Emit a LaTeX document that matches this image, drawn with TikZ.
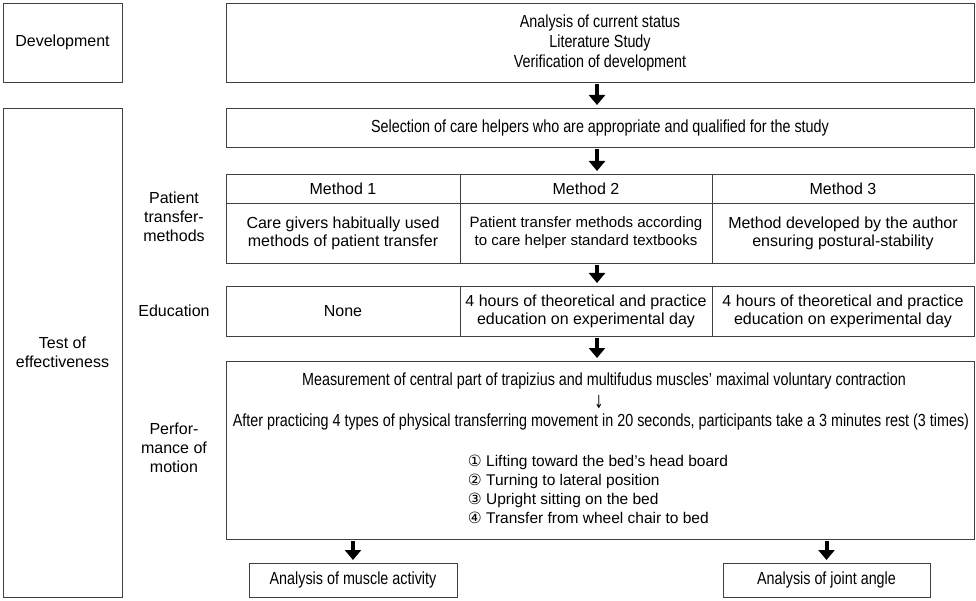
\documentclass[tikz,border=0pt]{standalone}
\usepackage{fontspec}
\setmainfont{Liberation Sans}
\newfontfamily\narrowfont[FakeStretch=0.82]{Liberation Sans}
\newfontfamily\circfont{DejaVu Sans}
\newfontfamily\thinarrowfont[FakeStretch=0.6]{DejaVu Sans}
\usetikzlibrary{positioning,arrows.meta}

\tikzset{
    box/.style={draw=black!75, line width=0.8pt, inner sep=0pt, outer sep=0pt, align=center},
    widetext/.style={font=\fontsize{16}{19}\selectfont},
    celltext/.style={font=\fontsize{16}{18}\selectfont},
    narrowtext/.style={font=\fontsize{17.5}{20}\narrowfont},
    sidetext/.style={align=center, widetext},
    bigarrow/.style={-{Triangle[width=16pt,length=10pt]}, line width=4pt, black, shorten <=2pt, shorten >=3pt}
}

\begin{document}
\begin{tikzpicture}[x=1pt, y=-1pt]
    \useasboundingbox (0,0) rectangle (976,601);
    % Development
    \node[box, widetext, minimum width=119pt, minimum height=79pt] (dev) at (62.5,42.5) {Development};
    \node[box, narrowtext, minimum width=748pt, minimum height=79pt] (status) at (600,42.5) {Analysis of current status\\Literature Study\\Verification of development};
    % Test of effectiveness
    \node[box, widetext, minimum width=119pt, minimum height=489pt] (test) at (62.5,352.5) {Test of\\effectiveness};
    \node[box, narrowtext, minimum width=748pt, minimum height=39pt] (select) at (600,127.5) {Selection of care helpers who are appropriate and qualified for the study};
    % Methods
    \node[sidetext] (ptm) at (174,217) {Patient\\transfer-\\methods};
    \node[box, widetext, minimum width=234pt, minimum height=29pt] (m1h) at (343,188.5) {Method 1};
    \node[box, widetext, minimum width=252pt, minimum height=29pt, right=0pt of m1h] (m2h) {Method 2};
    \node[box, widetext, minimum width=262pt, minimum height=29pt, right=0pt of m2h] (m3h) {Method 3};
    \node[box, celltext, minimum width=234pt, minimum height=60pt, below=0pt of m1h] (m1d) {Care givers habitually used\\methods of patient transfer};
    \node[box, font=\fontsize{15}{18}\selectfont, minimum width=252pt, minimum height=60pt, below=0pt of m2h] (m2d) {Patient transfer methods according\\to care helper standard textbooks};
    \node[box, celltext, minimum width=262pt, minimum height=60pt, below=0pt of m3h] (m3d) {Method developed by the author\\ensuring postural-stability};
    % Education
    \node[sidetext] (edul) at (174,311) {Education};
    \node[box, widetext, minimum width=234pt, minimum height=50pt] (e1) at (343,311) {None};
    \node[box, celltext, minimum width=252pt, minimum height=50pt, right=0pt of e1] (e2) {4 hours of theoretical and practice\\education on experimental day};
    \node[box, celltext, minimum width=262pt, minimum height=50pt, right=0pt of e2] (e3) {4 hours of theoretical and practice\\education on experimental day};
    % Performance of motion
    \node[sidetext] (perfl) at (174,448) {Perfor-\\mance of\\motion};
    \node[box, minimum width=748pt, minimum height=178pt] (perf) at (600,450) {};
    \node[narrowtext] (measure) at (604,381) {Measurement of central part of trapizius and multifudus muscles’ maximal voluntary contraction};
    \node[font=\fontsize{18}{18}\thinarrowfont] (down) at (599,402) {↓};
    \node[narrowtext] (practice) at (601,422) {After practicing 4 types of physical transferring movement in 20 seconds, participants take a 3 minutes rest (3 times)};
    \node[align=left, font=\fontsize{15.5}{19}\selectfont] (moves) at (598,489) {{\circfont ①} Lifting toward the bed’s head board\\{\circfont ②} Turning to lateral position\\{\circfont ③} Upright sitting on the bed\\{\circfont ④} Transfer from wheel chair to bed};
    % Analysis
    \node[box, narrowtext, minimum width=208pt, minimum height=34pt] (muscle) at (353,580) {Analysis of muscle activity};
    \node[box, narrowtext, minimum width=207pt, minimum height=34pt] (joint) at (826.5,580) {Analysis of joint angle};
    % Arrows
    \draw[bigarrow] (status.south -| 597,0) -- (select.north -| 597,0);
    \draw[bigarrow] (select.south -| 597,0) -- (m2h.north -| 597,0);
    \draw[bigarrow] (m2d.south -| 597,0) -- (e2.north -| 597,0);
    \draw[bigarrow] (e2.south -| 597,0) -- (perf.north -| 597,0);
    \draw[bigarrow] (perf.south -| muscle.north) -- (muscle.north);
    \draw[bigarrow] (perf.south -| joint.north) -- (joint.north);
\end{tikzpicture}
\end{document}
